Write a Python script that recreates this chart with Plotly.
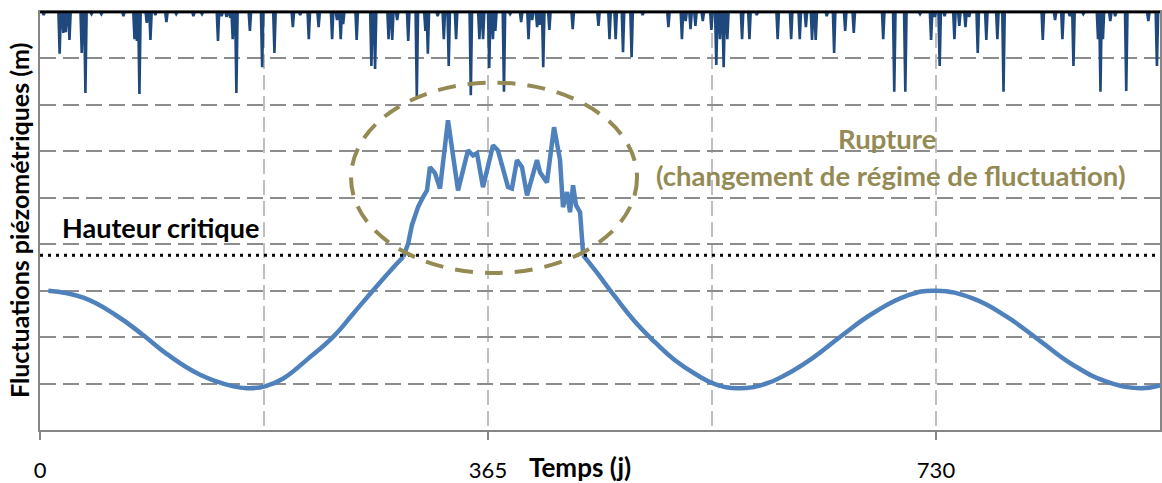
import plotly.graph_objects as go

# ---- Data ----
# Piezometric level (m, arbitrary units) - smooth part before the rupture
days_before = [6.8, 35.3, 62.5, 84.2, 103.2, 130.4, 157.5, 168.4, 183.3, 198.2,
               217.3, 239.0, 255.3, 271.5, 285.1, 296.0]
level_before = [3.00, 2.85, 2.46, 2.04, 1.64, 1.19, 0.94, 0.90, 0.94, 1.11,
                1.51, 2.01, 2.51, 3.01, 3.42, 3.73]

# Rupture (change of fluctuation regime)
days_rupture = [296.0, 300.0, 303.0, 308.0, 312.0, 315.3, 317.7, 321.8, 325.9, 332.4,
                340.6, 348.7, 352.8, 356.0, 360.9, 369.1, 373.1, 377.2, 381.3, 384.5,
                388.6, 392.7, 396.8, 404.9, 407.4, 413.0, 418.8, 423.7, 426.1, 429.4,
                431.8, 434.3, 436.7, 440.0, 442.0, 442.6]
level_rupture = [3.73, 4.02, 4.41, 4.80, 5.01, 5.16, 5.66, 5.53, 5.20, 6.67,
                 5.16, 6.02, 5.91, 5.96, 5.23, 6.13, 6.02, 5.59, 5.23, 5.20,
                 5.81, 5.66, 5.05, 5.81, 5.55, 5.33, 6.52, 5.81, 4.80, 5.12,
                 4.69, 5.27, 4.84, 4.69, 4.09, 3.76]

# Smooth part after the rupture
days_after = [442.6, 452.2, 468.5, 484.8, 501.0, 517.3, 533.6, 549.9, 568.9, 590.6,
              608.3, 630.0, 653.1, 678.9, 706.1, 730.0, 760.4, 787.6, 814.7, 841.8,
              869.0, 896.2, 912.5]
level_after = [3.76, 3.44, 2.87, 2.33, 1.89, 1.50, 1.21, 0.99, 0.90, 0.99,
               1.20, 1.56, 2.03, 2.52, 2.89, 3.00, 2.83, 2.44, 1.92, 1.40,
               1.04, 0.90, 0.96]

critical_height = 3.76

# Rainfall spikes (day, mm) hanging from the top
rain_days = [3, 16, 19, 21, 24, 34, 37, 42, 50, 68, 77, 79, 81, 87, 90, 94, 103, 111,
             125, 132, 145, 148, 152, 155, 157, 160, 171, 181, 191, 206, 212, 219, 227,
             238, 242, 245, 247, 258, 270, 273, 284, 287, 291, 300, 307, 314, 316, 324,
             329, 333, 339, 351, 358, 361, 366, 369, 371, 378, 383, 392, 398, 401, 405,
             407, 410, 415, 434, 455, 464, 469, 475, 482, 491, 512, 523, 526, 530, 534,
             540, 547, 551, 554, 557, 560, 572, 578, 584, 601, 612, 619, 624, 629, 632,
             641, 647, 656, 663, 687, 696, 705, 717, 726, 729, 733, 737, 745, 749, 754,
             757, 764, 771, 780, 785, 817, 827, 833, 839, 842, 850, 862, 864, 866, 872,
             876, 885, 903, 910]
rain_mm = [0.7, 10.0, 5.0, 4.8, 6.7, 9.8, 19.4, 0.5, 0.5, 1.0, 6.5, 6.9, 19.6, 2.6, 6.7, 0.7, 2.4, 0.5,
           1.0, 0.5, 6.9, 1.0, 1.2, 1.4, 6.5, 19.4, 4.5, 13.2, 9.8, 3.6, 0.7, 6.5, 3.6,
           6.5, 1.9, 6.5, 2.9, 6.7, 12.9, 13.6, 6.5, 6.7, 1.9, 6.9, 20.1, 4.5, 10.0, 1.0,
           6.5, 12.9, 6.5, 19.9, 6.5, 6.5, 13.4, 6.5, 4.5, 19.1, 0.5, 2.4, 6.5, 1.9, 3.6,
           3.1, 13.2, 4.3, 4.1, 3.3, 6.5, 6.5, 9.6, 10.8, 0.7, 3.6, 6.5, 2.2, 4.1, 3.3,
           2.2, 4.3, 12.7, 6.5, 13.2, 6.5, 6.5, 6.5, 0.7, 6.5, 6.5, 6.5, 3.6, 6.7, 6.7,
           1.0, 9.8, 4.5, 5.0, 6.5, 19.1, 19.1, 0.5, 6.7, 1.2, 12.9, 1.0, 6.5, 3.3, 3.6,
           1.2, 9.8, 6.7, 6.5, 19.1, 6.7, 1.9, 6.5, 1.0, 12.9, 0.5, 6.5, 19.1, 6.5, 2.2,
           1.0, 18.9, 2.2, 12.9]

x_ticks = [0, 365, 730]
x_minor = [182.5, 547.5]

# daily rainfall series (zero on dry days)
rain_lookup = dict(zip(rain_days, rain_mm))
all_days = list(range(0, 913))
daily_rain = [rain_lookup.get(d, 0.0) for d in all_days]

FONT = "Lato"
OLIVE = "#948A54"
BLUE = "#4F81BD"
DARKBLUE = "#1F497D"

fig = go.Figure()

fig.add_trace(go.Scatter(x=all_days, y=daily_rain, yaxis="y2", mode="lines",
                         line=dict(color=DARKBLUE, width=2.6), hoverinfo="skip",
                         showlegend=False))

for xs, ys, shape in [(days_before, level_before, "spline"),
                      (days_rupture, level_rupture, "linear"),
                      (days_after, level_after, "spline")]:
    fig.add_trace(go.Scatter(x=xs, y=ys, mode="lines",
                             line=dict(color=BLUE, width=4.5, shape=shape, smoothing=1.3),
                             showlegend=False))

# critical height (dotted)
fig.add_shape(type="line", xref="paper", yref="y", x0=0, x1=1,
              y0=critical_height, y1=critical_height,
              line=dict(color="black", width=3, dash="3px,5px"))

# rupture ellipse
fig.add_shape(type="circle", xref="x", yref="y", x0=253.4, x1=486.4, y0=3.38, y1=7.48,
              line=dict(color=OLIVE, width=4, dash="18px,12px"))

# black top border
fig.add_shape(type="line", xref="paper", yref="paper", x0=0, x1=1, y0=1, y1=1,
              line=dict(color="black", width=2.5))

fig.add_annotation(x=16.3, y=4.37, xref="x", yref="y", text="<b>Hauteur critique</b>",
                   showarrow=False, xanchor="left", yanchor="middle",
                   font=dict(family=FONT, size=27, color="black"))
fig.add_annotation(x=690, y=6.28, xref="x", yref="y", text="<b>Rupture</b>",
                   showarrow=False, xanchor="center", yanchor="middle",
                   font=dict(family=FONT, size=27.5, color=OLIVE))
fig.add_annotation(x=693, y=5.48, xref="x", yref="y",
                   text="<b>(changement de régime de fluctuation)</b>",
                   showarrow=False, xanchor="center", yanchor="middle",
                   font=dict(family=FONT, size=27.5, color=OLIVE))
fig.add_annotation(x=0, y=0.5, xref="paper", yref="paper", xshift=-21,
                   text="<b>Fluctuations piézométriques (m)</b>", textangle=-90,
                   showarrow=False, xanchor="center", yanchor="middle",
                   font=dict(family=FONT, size=25, color="black"))
fig.add_annotation(x=0.482, y=0, xref="paper", yref="paper", yshift=-37,
                   text="<b>Temps (j)</b>", showarrow=False,
                   xanchor="center", yanchor="middle",
                   font=dict(family=FONT, size=26, color="black"))

fig.update_layout(
    width=1162, height=483,
    margin=dict(l=40, r=0, t=12, b=53),
    plot_bgcolor="white", paper_bgcolor="white",
    font=dict(family=FONT),
    xaxis=dict(range=[0, 912.5], tickmode="array", tickvals=x_ticks,
               ticktext=[str(v) for v in x_ticks],
               tickfont=dict(family=FONT, size=22, color="black"),
               ticks="outside", ticklen=8, tickwidth=1.5, tickcolor="#868686",
               ticklabelstandoff=12,
               showline=True, linecolor="#868686", linewidth=1.5, mirror=True,
               showgrid=True, gridcolor="#bfbfbf", gridwidth=1.5, griddash="15px,6px",
               minor=dict(tickmode="array", tickvals=x_minor, showgrid=True,
                          gridcolor="#bfbfbf", gridwidth=1.5, griddash="15px,6px",
                          ticks=""),
               zeroline=False),
    yaxis=dict(range=[0, 9], dtick=1, showticklabels=False, ticks="",
               showline=True, linecolor="#868686", linewidth=1.5, mirror=True,
               showgrid=True, gridcolor="#8c8c8c", gridwidth=1.5, griddash="16px,7px",
               zeroline=False),
    yaxis2=dict(range=[100, 0], overlaying="y", side="right", visible=False,
                showgrid=False, zeroline=False),
)

fig.write_html("out.html", config={"displayModeBar": False},
               post_script="document.body.style.margin='0';document.body.style.overflow='hidden';")
